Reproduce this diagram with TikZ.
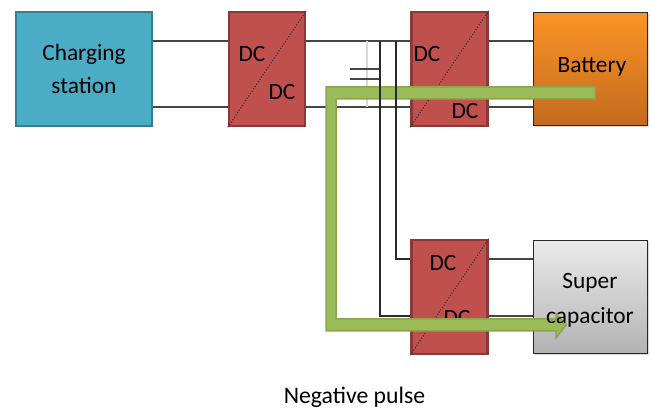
\documentclass[tikz,border=0pt]{standalone}
\usepackage{fontspec}
\setmainfont{Carlito}
\usetikzlibrary{shadows}
\definecolor{stationblue}{HTML}{4BACC6}
\definecolor{stationedge}{HTML}{357D91}
\definecolor{convred}{HTML}{C0504D}
\definecolor{convedge}{HTML}{8C3836}
\definecolor{pulsegreen}{HTML}{9BBB59}
\definecolor{pulseedge}{HTML}{8AA64C}
\definecolor{wiregray}{HTML}{454545}
\definecolor{batterytop}{HTML}{FB9427}
\definecolor{batterybottom}{HTML}{C46A1E}
\tikzset{
  station/.style={draw=stationedge,line width=0.05cm,fill=stationblue,minimum width=2.72cm,minimum height=2.28cm},
  conv/.style={draw=convedge,line width=0.05cm,fill=convred,minimum width=1.52cm,minimum height=2.28cm},
  store/.style={draw=black!85,line width=0.03cm,minimum width=2.28cm,minimum height=2.26cm,drop shadow={shadow xshift=0.02cm,shadow yshift=-0.03cm,opacity=0.3}},
  wire/.style={draw=wiregray,line width=0.022cm},
  label/.style={font=\fontsize{13.3}{18.8}\selectfont,text=black,inner sep=0pt},
}
\begin{document}
\begin{tikzpicture}
\useasboundingbox (0,0) rectangle (13.02,8.18);

% Rails
\coordinate (railA) at (0,7.36);
\coordinate (railB) at (0,6.04);
\coordinate (railC) at (0,3.00);
\coordinate (railD) at (0,1.86);
\coordinate (busgray) at (7.34,0);
\coordinate (busone) at (7.60,0);
\coordinate (bustwo) at (7.92,0);
\coordinate (plateA) at (7.00,6.80);
\coordinate (plateB) at (7.00,6.60);

% Boxes
\node [station] (charging) at (1.68,6.80) {};
\node [conv] (dcone) at (5.34,6.80) {};
\node [conv] (dctwo) at (8.99,6.80) {};
\node [conv] (dcthree) at (8.99,2.24) {};
\node [store,top color=batterytop,bottom color=batterybottom] (battery) at (11.81,6.80) {};
\node [store,top color=black!8,bottom color=black!30] (super) at (11.81,2.24) {};

% Drawing wires between boxes
\draw [wire] (charging.east |- railA) -- (dcone.west |- railA);
\draw [wire] (charging.east |- railB) -- (dcone.west |- railB);
\draw [wire] (dcone.east |- railA) -- (dctwo.west |- railA);
\draw [wire] (dcone.east |- railB) -- (dctwo.west |- railB);
\draw [wire] (dctwo.east |- railA) -- (battery.west |- railA);
\draw [wire] (dctwo.east |- railB) -- (battery.west |- railB);
\draw [wire] (dcthree.east |- railC) -- (super.west |- railC);
\draw [wire] (dcthree.east |- railD) -- (super.west |- railD);

% Drawing capacitor
\draw [black!15,line width=0.04cm] (busgray |- railA) -- (busgray |- railB);
\draw [wire] (plateA) -- (busone |- plateA);
\draw [wire] (plateB) -- (busone |- plateB);

% Drawing diagonals
\draw [black!80,densely dotted,line width=0.022cm] (dcone.south west) -- (dcone.north east);
\draw [black!80,densely dotted,line width=0.022cm] (dctwo.south west) -- (dctwo.north east);
\draw [black!80,densely dotted,line width=0.022cm] (dcthree.south west) -- (dcthree.north east);

% Marking DC
\node [label] (dconeA) at (5.04,7.10) {DC};
\node [label] (dconeB) at (5.64,6.34) {DC};
\node [label] (dctwoA) at (8.54,7.10) {DC};
\node [label] (dctwoB) at (9.30,5.96) {DC};
\node [label] (dcthreeA) at (8.86,2.92) {DC};
\node [label] (dcthreeB) at (9.14,1.82) {DC};

% Drawing pulse path
\draw [pulseedge,fill=pulsegreen,line width=0.03cm,line join=miter]
  (11.90,6.44) -- (6.52,6.44) -- (6.52,1.56) -- (11.12,1.56) -- (11.12,1.42)
  -- (11.32,1.68) -- (11.12,1.90) -- (11.12,1.80) -- (6.72,1.80) -- (6.72,6.20)
  -- (11.90,6.20) -- cycle;

% Drawing buses
\draw [wiregray!60!black,line width=0.022cm] (busone |- railA) -- (busone |- railD) -- (dcthree.west |- railD);
\draw [wiregray!60!black,line width=0.022cm] (bustwo |- railA) -- (bustwo |- railC) -- (dcthree.west |- railC);

% Marking stores
\node [label,align=center] (chargingtext) at (charging.center) {Charging\\station};
\node [label] (batterytext) at (11.84,6.84) {Battery};
\node [label,align=center] (supertext) at (11.80,2.18) {Super\\[1pt]capacitor};
\node [label,font=\fontsize{13.5}{16}\selectfont] (caption) at (7.09,0.24) {Negative pulse};
\end{tikzpicture}
\end{document}
